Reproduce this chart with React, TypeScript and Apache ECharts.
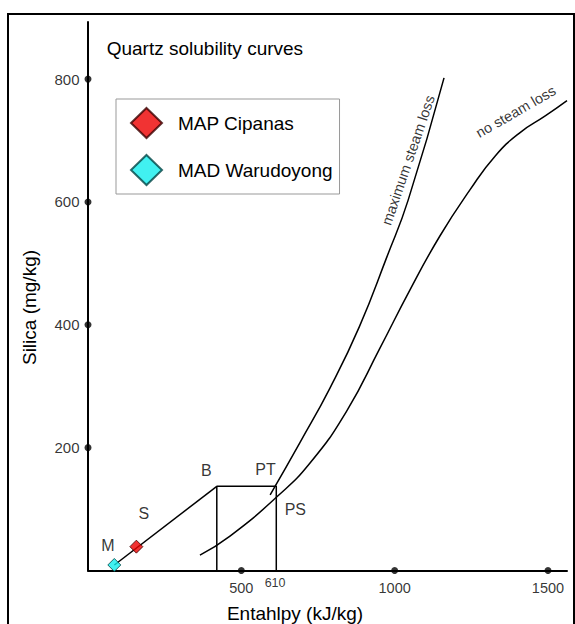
import React, { useEffect, useRef } from "react";
import * as echarts from "echarts";

// ---- data ----
const maxSteamX = [594, 692, 789, 885, 975, 1044, 1161];
const maxSteamY = [123, 209, 297, 397, 511, 603, 802];
const noSteamX = [365, 463, 616, 724, 844, 952, 1050, 1148, 1246, 1328, 1409, 1491, 1562];
const noSteamY = [25, 56, 120, 175, 260, 362, 457, 545, 620, 675, 713, 740, 765];
const mixLineX = [86, 420];
const mixLineY = [9, 137];
const boxX = [420, 420, 614, 614];
const boxY = [0, 137, 137, 0];
const mapCipanas = [157.7, 38.8];
const madWarudoyong = [85.8, 9];
const xTickValues = [500, 1000, 1500];
const yTickValues = [200, 400, 600, 800];
const extraXTick = { value: 610, label: "610" };
const pointNames = ["M", "S", "B", "PT", "PS"];
const pointLabelX = [65, 182, 386, 579, 676];
const pointLabelY = [41.5, 92, 163, 165, 100];
const curveNames = ["maximum steam loss", "no steam loss"];
const curveLabelX = [1044, 1395];
const curveLabelY = [668, 747];
const curveLabelRotate = [71, 30];

const FONT = "'Liberation Sans', Arial, Helvetica, sans-serif";

export default function App() {
  const ref = useRef<HTMLDivElement>(null);
  useEffect(() => {
    if (!ref.current) return;
    const chart = echarts.init(ref.current, undefined, { renderer: "svg" });
    const zip = (xs: number[], ys: number[]) => xs.map((x, i) => [x, ys[i]]);
    const black = "#000";
    chart.setOption({
      animation: false,
      textStyle: { fontFamily: FONT, color: black },
      grid: { left: 88, right: 8, top: 22, bottom: 53.5, containLabel: false },
      xAxis: {
        type: "value",
        min: 0,
        max: 1562,
        axisLine: { show: true, onZero: false, lineStyle: { color: black, width: 2 } },
        axisTick: { show: false },
        axisLabel: { show: false },
        splitLine: { show: false },
      },
      yAxis: {
        type: "value",
        min: 0,
        max: 893,
        axisLine: { show: true, onZero: false, lineStyle: { color: black, width: 2 } },
        axisTick: { show: false },
        axisLabel: { show: false },
        splitLine: { show: false },
      },
      legend: {
        data: ["MAP Cipanas", "MAD Warudoyong"],
        orient: "vertical",
        left: 116,
        top: 99,
        padding: [8, 7, 8, 14],
        itemWidth: 31,
        itemHeight: 30,
        itemGap: 15,
        borderColor: "#999",
        borderWidth: 1,
        backgroundColor: "#fff",
        textStyle: { fontSize: 19, color: black, fontFamily: FONT, padding: [0, 0, 0, 11] },
      },
      graphic: [
        {
          type: "rect",
          z: -10,
          shape: { x: 8, y: 14, width: 566, height: 700 },
          style: { fill: "none", stroke: black, lineWidth: 2 },
          silent: true,
        },
        {
          type: "text",
          x: 106.7,
          y: 48.5,
          style: {
            text: "Quartz solubility curves",
            fontSize: 19,
            fontFamily: FONT,
            fill: black,
            textAlign: "left",
            textVerticalAlign: "middle",
          },
        },
        {
          type: "text",
          x: 29,
          y: 307.5,
          rotation: Math.PI / 2,
          style: {
            text: "Silica (mg/kg)",
            fontSize: 19,
            fontFamily: FONT,
            fill: black,
            textAlign: "center",
            textVerticalAlign: "middle",
          },
        },
        {
          type: "text",
          x: 295,
          y: 613,
          style: {
            text: "Entahlpy (kJ/kg)",
            fontSize: 19,
            fontFamily: FONT,
            fill: black,
            textAlign: "center",
            textVerticalAlign: "middle",
          },
        },
      ],
      series: [
        {
          name: "maximum steam loss curve",
          type: "line",
          data: zip(maxSteamX, maxSteamY),
          smooth: 0.5,
          showSymbol: false,
          symbol: "none",
          lineStyle: { color: black, width: 1.5 },
          silent: true,
        },
        {
          name: "no steam loss curve",
          type: "line",
          data: zip(noSteamX, noSteamY),
          smooth: 0.5,
          showSymbol: false,
          symbol: "none",
          lineStyle: { color: black, width: 1.5 },
          silent: true,
        },
        {
          name: "mixing line",
          type: "line",
          data: zip(mixLineX, mixLineY),
          symbol: "none",
          lineStyle: { color: black, width: 1.5 },
          silent: true,
        },
        {
          name: "box",
          type: "line",
          data: zip(boxX, boxY),
          symbol: "none",
          lineStyle: { color: black, width: 1.5 },
          silent: true,
        },
        {
          name: "x ticks",
          type: "scatter",
          clip: false,
          symbol: "circle",
          symbolSize: 7,
          itemStyle: { color: black },
          data: xTickValues.map((v) => ({ value: [v, 0], name: String(v) })),
          label: {
            show: true,
            position: "bottom",
            distance: 6,
            fontSize: 14.5,
            color: black,
            fontFamily: FONT,
            formatter: (p: any) => p.name,
          },
          silent: true,
          z: 5,
        },
        {
          name: "y ticks",
          type: "scatter",
          clip: false,
          symbol: "circle",
          symbolSize: 7,
          itemStyle: { color: black },
          data: yTickValues.map((v) => ({ value: [0, v], name: String(v) })),
          label: {
            show: true,
            position: "left",
            distance: 5,
            fontSize: 15,
            color: black,
            fontFamily: FONT,
            formatter: (p: any) => p.name,
          },
          silent: true,
          z: 5,
        },
        {
          name: "extra tick label",
          type: "scatter",
          clip: false,
          symbolSize: 0,
          data: [{ value: [extraXTick.value, 0], name: extraXTick.label }],
          label: {
            show: true,
            position: "bottom",
            distance: 6,
            fontSize: 12.5,
            color: black,
            fontFamily: FONT,
            formatter: (p: any) => p.name,
          },
          silent: true,
        },
        {
          name: "point labels",
          type: "scatter",
          clip: false,
          symbolSize: 0,
          data: pointNames.map((n, i) => ({ name: n, value: [pointLabelX[i], pointLabelY[i]] })),
          label: {
            show: true,
            position: "inside",
            fontSize: 16,
            color: black,
            fontFamily: FONT,
            formatter: (p: any) => p.name,
          },
          silent: true,
        },
        {
          name: "curve labels",
          type: "scatter",
          clip: false,
          symbolSize: 0,
          data: curveNames.map((n, i) => ({
            name: n,
            value: [curveLabelX[i], curveLabelY[i]],
            label: { rotate: curveLabelRotate[i] },
          })),
          label: {
            show: true,
            position: "inside",
            fontSize: 14.5,
            color: black,
            fontFamily: FONT,
            formatter: (p: any) => p.name,
          },
          silent: true,
        },
        {
          name: "MAP Cipanas",
          type: "scatter",
          symbol: "diamond",
          symbolSize: 13,
          clip: false,
          itemStyle: { color: "#ee0000", borderColor: "#3a0000", borderWidth: 1 },
          data: [mapCipanas],
          z: 6,
        },
        {
          name: "MAD Warudoyong",
          type: "scatter",
          symbol: "diamond",
          symbolSize: 13,
          clip: false,
          itemStyle: { color: "#11eeee", borderColor: "#004444", borderWidth: 1 },
          data: [madWarudoyong],
          z: 6,
        },
      ],
    });
    return () => chart.dispose();
  }, []);
  return (
    <div
      ref={ref}
      style={{ position: "fixed", left: 0, top: 0, width: 575, height: 624, background: "#fff" }}
    />
  );
}
